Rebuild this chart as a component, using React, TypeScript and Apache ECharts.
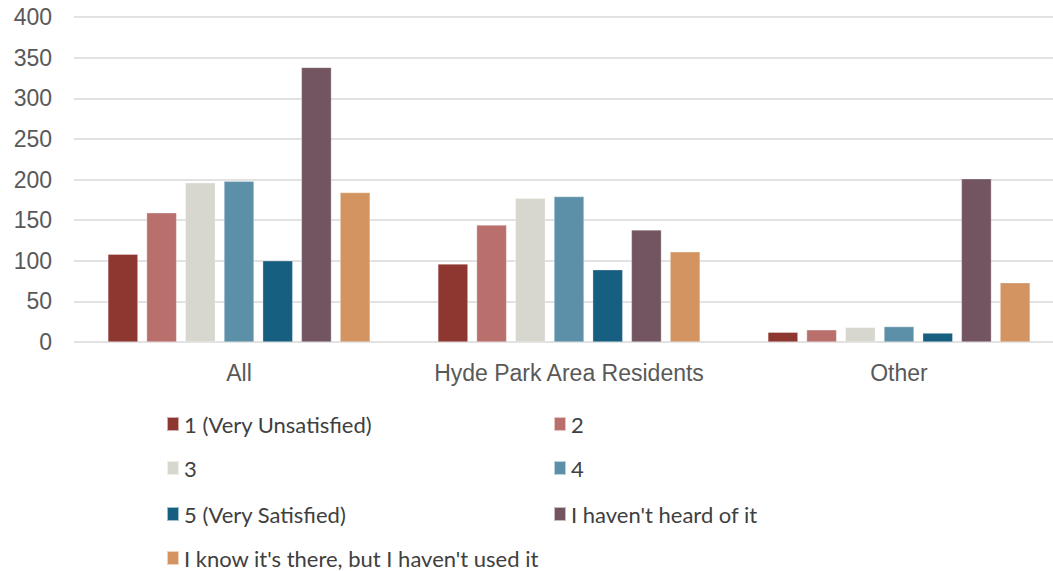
import React, { useEffect, useRef } from "react";
import * as echarts from "echarts";

const categories = ["All", "Hyde Park Area Residents", "Other"];
const seriesNames = [
  "1 (Very Unsatisfied)",
  "2",
  "3",
  "4",
  "5 (Very Satisfied)",
  "I haven't heard of it",
  "I know it's there, but I haven't used it",
];
const s1 = [108, 96, 12];
const s2 = [159, 144, 15];
const s3 = [196, 177, 18];
const s4 = [198, 179, 19];
const s5 = [100, 89, 11];
const s6 = [338, 138, 201];
const s7 = [184, 111, 73];
const seriesValues = [s1, s2, s3, s4, s5, s6, s7];
const colors = ["#8E3730", "#B96F6B", "#D7D7CF", "#5C90A9", "#175F80", "#735562", "#D39461"];
const yTicks = { min: 0, max: 400, interval: 50 };

export default function App() {
  const ref = useRef<HTMLDivElement>(null);
  useEffect(() => {
    if (!ref.current) return;
    const chart = echarts.init(ref.current, null, { renderer: "svg" });
    const legendPos = [
      [166, 413],
      [553, 413],
      [166, 457],
      [553, 457],
      [166, 503],
      [553, 503],
      [166, 547],
    ];
    chart.setOption({
      animation: false,
      color: colors,
      grid: {
        left: 74,
        top: 17,
        width: 990,
        height: 325,
        containLabel: false,
        outerBoundsMode: "none",
      },
      legend: seriesNames.map((n, i) => ({
        data: [n],
        left: legendPos[i][0],
        top: legendPos[i][1],
        icon: "rect",
        itemWidth: 12,
        itemHeight: 14,
        itemGap: 8,
        padding: 0,
        selectedMode: false,
        textStyle: { fontFamily: "Lato", fontSize: 22, color: "#404040" },
      })),
      xAxis: {
        type: "category",
        data: categories,
        axisLine: { show: false },
        axisTick: { show: false },
        axisLabel: {
          interval: 0,
          hideOverlap: false,
          fontFamily: "Liberation Sans",
          fontSize: 23,
          color: "#595959",
          margin: 19,
        },
      },
      yAxis: {
        type: "value",
        min: yTicks.min,
        max: yTicks.max,
        interval: yTicks.interval,
        axisLine: { show: false },
        axisTick: { show: false },
        splitLine: { lineStyle: { color: "#D9D9D9", width: 1.5 } },
        axisLabel: { fontFamily: "Liberation Sans", fontSize: 23, color: "#595959", margin: 22 },
      },
      series: seriesNames.map((n, i) => ({
        name: n,
        type: "bar",
        data: seriesValues[i],
        barWidth: 30,
        barGap: "29%",
        itemStyle: { color: colors[i], borderColor: "rgba(255,255,255,0.6)", borderWidth: 0.5 },
      })),
    });
    return () => chart.dispose();
  }, []);
  return (
    <div
      ref={ref}
      style={{ position: "fixed", left: 0, top: 0, width: 1053, height: 571, background: "#fff" }}
    />
  );
}
